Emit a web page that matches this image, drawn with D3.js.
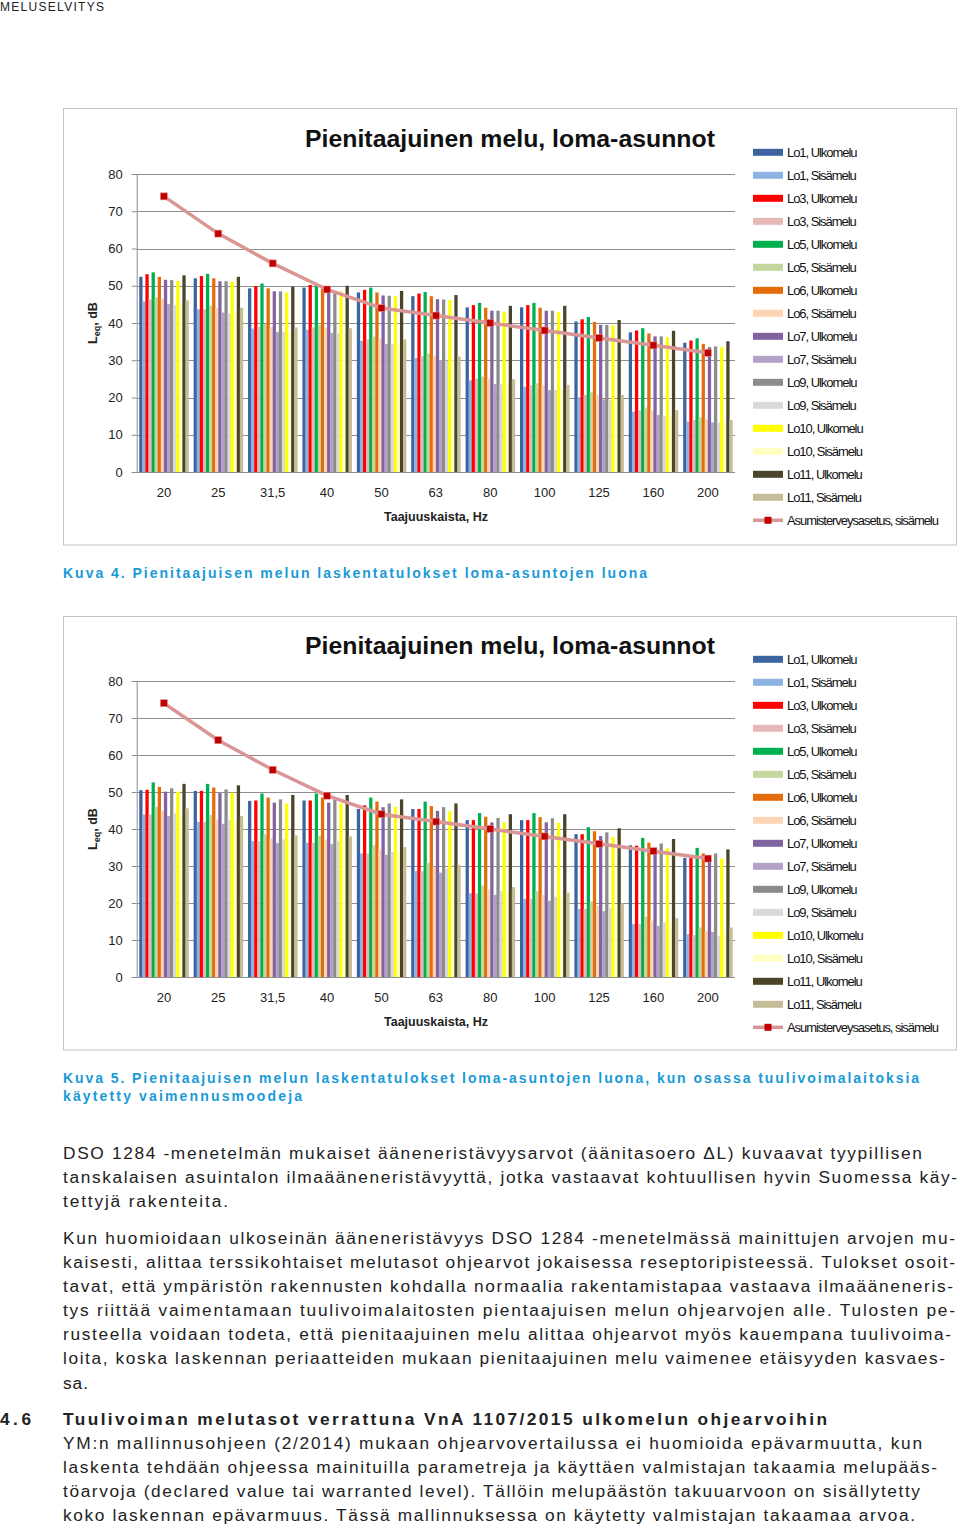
<!DOCTYPE html>
<html>
<head>
<meta charset="utf-8">
<script src="https://cdn.jsdelivr.net/npm/d3@7"></script>
<style>
body { margin: 0; background: #fff; }
svg text { font-family: "Liberation Sans", Arial, sans-serif; }
</style>
</head>
<body>
<svg id="page" width="960" height="1529"></svg>
<script>
// frequency bands (Hz)
const categories = ["20", "25", "31,5", "40", "50", "63", "80", "100", "125", "160", "200"];
// Asumisterveysasetus, sisämelu
const limit = [74, 64, 56, 49, 44, 42, 40, 38, 36, 34, 32];

// Kuva 4
const k4_lo1_u  = [52.4, 52.0, 49.3, 49.5, 48.2, 47.2, 44.2, 44.2, 40.4, 37.5, 34.7];
const k4_lo1_s  = [45.8, 43.7, 38.5, 38.2, 35.2, 30.6, 24.6, 22.9, 20.1, 16.2, 13.5];
const k4_lo3_u  = [53.1, 52.6, 49.9, 50.2, 48.9, 47.9, 44.8, 44.8, 41.0, 38.0, 35.3];
const k4_lo3_s  = [46.3, 43.7, 39.0, 38.8, 35.6, 31.1, 25.0, 23.3, 20.7, 16.6, 14.0];
const k4_lo5_u  = [53.6, 53.2, 50.6, 50.6, 49.5, 48.3, 45.4, 45.4, 41.6, 38.6, 35.9];
const k4_lo5_s  = [46.9, 44.7, 39.7, 39.5, 36.3, 31.8, 25.6, 23.8, 21.4, 17.3, 14.7];
const k4_lo6_u  = [52.4, 52.0, 49.3, 49.3, 48.2, 47.2, 44.1, 44.1, 40.3, 37.2, 34.4];
const k4_lo6_s  = [46.5, 44.0, 38.9, 38.7, 35.7, 31.2, 25.0, 23.3, 20.7, 16.6, 14.1];
const k4_lo7_u  = [51.6, 51.2, 48.5, 48.3, 47.4, 46.4, 43.3, 43.3, 39.5, 36.4, 33.5];
const k4_lo7_s  = [45.1, 42.8, 37.6, 37.3, 34.4, 30.1, 23.6, 22.0, 19.5, 15.3, 13.3];
const k4_lo9_u  = [51.5, 51.2, 48.5, 48.3, 47.3, 46.3, 43.3, 43.3, 39.5, 36.4, 33.7];
const k4_lo9_s  = [44.9, 42.6, 37.6, 37.2, 34.3, 29.9, 23.6, 22.0, 19.3, 15.1, 13.3];
const k4_lo10_u = [51.3, 51.1, 48.2, 48.5, 47.3, 46.1, 43.0, 42.9, 39.3, 36.2, 33.5];
const k4_lo10_s = [45.0, 42.7, 37.5, 37.2, 34.3, 30.0, 23.6, 22.0, 19.4, 15.2, 13.3];
const k4_lo11_u = [52.8, 52.4, 49.8, 50.0, 48.6, 47.5, 44.6, 44.6, 40.8, 37.9, 35.1];
const k4_lo11_s = [46.1, 44.1, 38.8, 38.6, 35.6, 31.0, 24.9, 23.4, 20.7, 16.6, 14.0];

// Kuva 5
const k5_lo1_u  = [50.5, 50.3, 47.6, 47.7, 45.4, 45.4, 42.4, 42.4, 38.6, 35.6, 32.2];
const k5_lo1_s  = [43.9, 41.9, 36.7, 36.3, 33.4, 28.6, 22.6, 21.1, 18.4, 14.3, 11.6];
const k5_lo3_u  = [50.6, 50.3, 47.7, 47.7, 46.4, 45.4, 42.4, 42.4, 38.6, 35.5, 32.2];
const k5_lo3_s  = [43.9, 41.9, 36.7, 36.3, 33.4, 28.6, 22.6, 21.1, 18.4, 14.3, 11.3];
const k5_lo5_u  = [52.6, 52.2, 49.6, 49.6, 48.5, 47.4, 44.3, 44.3, 40.5, 37.6, 34.9];
const k5_lo5_s  = [46.0, 43.8, 38.6, 38.2, 35.6, 30.8, 24.7, 23.2, 20.4, 16.3, 13.4];
const k5_lo6_u  = [51.4, 51.2, 48.5, 48.5, 47.4, 46.2, 43.3, 43.2, 39.4, 36.3, 33.4];
const k5_lo6_s  = [44.9, 42.6, 37.5, 37.2, 34.5, 29.8, 23.7, 22.2, 19.3, 15.2, 12.4];
const k5_lo7_u  = [50.1, 49.7, 47.1, 47.1, 45.9, 44.9, 41.8, 41.8, 38.1, 34.8, 32.0];
const k5_lo7_s  = [43.5, 41.4, 36.2, 35.9, 33.0, 28.2, 22.2, 20.6, 17.8, 13.8, 12.2];
const k5_lo9_u  = [51.0, 50.7, 48.0, 47.9, 46.9, 45.9, 43.0, 42.9, 39.1, 36.1, 33.4];
const k5_lo9_s  = [44.3, 42.4, 37.2, 36.8, 33.8, 29.3, 23.2, 21.7, 18.8, 14.8, 11.0];
const k5_lo10_u = [50.1, 49.8, 46.9, 46.9, 46.0, 44.8, 41.8, 41.7, 37.9, 34.8, 32.0];
const k5_lo10_s = [44.0, 42.0, 36.8, 36.5, 33.6, 29.0, 23.0, 21.5, 18.6, 14.6, 12.0];
const k5_lo11_u = [52.2, 51.8, 49.2, 49.2, 48.0, 46.9, 44.0, 44.0, 40.2, 37.3, 34.5];
const k5_lo11_s = [45.6, 43.5, 38.3, 38.0, 35.1, 30.3, 24.3, 22.8, 19.9, 15.9, 13.4];

const seriesNames = ["Lo1, Ulkomelu", "Lo1, Sisämelu", "Lo3, Ulkomelu", "Lo3, Sisämelu",
  "Lo5, Ulkomelu", "Lo5, Sisämelu", "Lo6, Ulkomelu", "Lo6, Sisämelu",
  "Lo7, Ulkomelu", "Lo7, Sisämelu", "Lo9, Ulkomelu", "Lo9, Sisämelu",
  "Lo10, Ulkomelu", "Lo10, Sisämelu", "Lo11, Ulkomelu", "Lo11, Sisämelu"];
const limitName = "Asumisterveysasetus, sisämelu";
const yTicks = [0, 10, 20, 30, 40, 50, 60, 70, 80];

const colors = ["#3c64a0", "#8db3e2", "#ff0000", "#e6b9b8", "#00b050", "#c3d69b", "#e46c0a", "#fcd5b5",
  "#8064a2", "#b3a2c7", "#8c8c8c", "#d9d9d9", "#ffff00", "#ffffc4", "#4a452a", "#c4bd97"];

const k4 = [k4_lo1_u, k4_lo1_s, k4_lo3_u, k4_lo3_s, k4_lo5_u, k4_lo5_s, k4_lo6_u, k4_lo6_s,
  k4_lo7_u, k4_lo7_s, k4_lo9_u, k4_lo9_s, k4_lo10_u, k4_lo10_s, k4_lo11_u, k4_lo11_s];
const k5 = [k5_lo1_u, k5_lo1_s, k5_lo3_u, k5_lo3_s, k5_lo5_u, k5_lo5_s, k5_lo6_u, k5_lo6_s,
  k5_lo7_u, k5_lo7_s, k5_lo9_u, k5_lo9_s, k5_lo10_u, k5_lo10_s, k5_lo11_u, k5_lo11_s];

const svg = d3.select("#page");

function drawChart(series, c) {
  const g = svg.append("g");
  g.append("rect").attr("x", 63.5).attr("y", c.top).attr("width", 893).attr("height", c.bottom - c.top)
    .attr("fill", "#fff").attr("stroke", "#c4c4c4");

  const y = d3.scaleLinear().domain([0, 80]).range([c.y0, c.y80]);
  const x0 = d3.scaleBand().domain(categories).range([136.7, 735]).paddingInner(0.094).paddingOuter(0.047);
  const x1 = d3.scaleBand().domain(d3.range(series.length)).range([0, x0.bandwidth()]);

  // gridlines
  g.append("g").selectAll("line").data(yTicks.slice(1)).join("line")
    .attr("x1", 136.7).attr("x2", 735).attr("y1", d => Math.round(y(d)) + 0.5).attr("y2", d => Math.round(y(d)) + 0.5)
    .attr("stroke", "#8f8f8f");

  // y axis
  const ay = g.append("g").attr("transform", "translate(136.7,0)")
    .call(d3.axisLeft(y).tickValues(yTicks).tickSize(5).tickPadding(9).tickFormat(d3.format("d")));
  ay.select(".domain").attr("stroke", "#8f8f8f");
  ay.selectAll(".tick line").attr("stroke", "#8f8f8f");
  ay.selectAll(".tick text").attr("font-size", 13).attr("fill", "#222").attr("font-family", "Liberation Sans, Arial");

  // bars
  const groups = g.append("g").selectAll("g").data(categories).join("g")
    .attr("transform", d => `translate(${x0(d)},0)`);
  groups.selectAll("rect").data((cat, i) => series.map((s, k) => ({ k, v: s[i] }))).join("rect")
    .attr("x", d => x1(d.k)).attr("width", x1.bandwidth() + 0.2)
    .attr("y", d => y(d.v)).attr("height", d => c.y0 - y(d.v))
    .attr("fill", d => colors[d.k]);

  // x axis
  g.append("line").attr("x1", 136.7).attr("x2", 735).attr("y1", c.y0 + 0.5).attr("y2", c.y0 + 0.5).attr("stroke", "#8f8f8f");
  g.append("g").selectAll("text").data(categories).join("text")
    .attr("x", d => x0(d) + x0.bandwidth() / 2).attr("y", c.y0 + 25)
    .attr("text-anchor", "middle").attr("font-size", 13).attr("fill", "#222").text(d => d);
  g.append("text").attr("x", 436).attr("y", c.y0 + 49).attr("text-anchor", "middle")
    .attr("font-size", 12.5).attr("font-weight", "bold").attr("fill", "#222").text("Taajuuskaista, Hz");

  // y title
  const yt = g.append("text").attr("transform", `translate(97,${c.yTitle}) rotate(-90)`)
    .attr("text-anchor", "middle").attr("font-size", 12.5).attr("font-weight", "bold").attr("fill", "#222");
  yt.append("tspan").text("L");
  yt.append("tspan").attr("font-size", 9).attr("dy", 3).text("eq");
  yt.append("tspan").attr("dy", -3).text(", dB");

  // limit line
  const cx = d => x0(d) + x0.bandwidth() / 2;
  g.append("path").datum(limit)
    .attr("d", d3.line().x((v, i) => cx(categories[i])).y(v => y(v)))
    .attr("fill", "none").attr("stroke", "#d99694").attr("stroke-width", 3.5);
  g.append("g").selectAll("rect").data(limit).join("rect")
    .attr("x", (v, i) => cx(categories[i]) - 3.5).attr("y", v => y(v) - 3.5)
    .attr("width", 7).attr("height", 7).attr("fill", "#c00000").attr("stroke", "#e09090").attr("stroke-width", 0.6);

  // title
  g.append("text").attr("x", 510).attr("y", c.titleY).attr("text-anchor", "middle")
    .attr("font-size", 24.5).attr("font-weight", "bold").attr("fill", "#111")
    .attr("textLength", 410).attr("lengthAdjust", "spacingAndGlyphs")
    .text("Pienitaajuinen melu, loma-asunnot");

  // legend
  const lg = g.append("g");
  const rows = seriesNames.map((n, k) => ({ n, k }));
  lg.selectAll("rect").data(rows).join("rect")
    .attr("x", 753).attr("y", d => c.legendY + d.k * 23 - 3.5).attr("width", 30).attr("height", 7)
    .attr("fill", d => colors[d.k]);
  lg.selectAll("text").data(rows.concat([{ n: limitName, k: 16 }])).join("text")
    .attr("x", 787).attr("y", d => c.legendY + d.k * 23 + 4.5)
    .attr("font-size", 13).attr("letter-spacing", -1.05).attr("fill", "#111").text(d => d.n);
  const ly = c.legendY + 16 * 23;
  lg.append("line").attr("x1", 753).attr("x2", 783).attr("y1", ly).attr("y2", ly)
    .attr("stroke", "#d99694").attr("stroke-width", 3.5);
  lg.append("rect").attr("x", 764.5).attr("y", ly - 3.5).attr("width", 7).attr("height", 7).attr("fill", "#c00000");
}

drawChart(k4, { top: 108.5, bottom: 545, y80: 174, y0: 472, titleY: 147, legendY: 152.3, yTitle: 323 });
drawChart(k5, { top: 616.5, bottom: 1050, y80: 681, y0: 977, titleY: 654, legendY: 659.3, yTitle: 829 });

// page text
function line(x, y, str, o) {
  const t = svg.append("text").attr("x", x).attr("y", y)
    .attr("font-size", o.size).attr("fill", o.fill || "#222")
    .attr("font-weight", o.bold ? "bold" : "normal").text(str);
  if (o.w) t.attr("textLength", o.w).attr("lengthAdjust", "spacing");
  return t;
}

line(0, 11, "MELUSELVITYS", { size: 12, w: 104, fill: "#222" });

const cap = { size: 14, bold: true, fill: "#1a9ad6" };
line(63, 578, "Kuva 4. Pienitaajuisen melun laskentatulokset loma-asuntojen luona", Object.assign({ w: 584 }, cap));
line(63, 1083, "Kuva 5. Pienitaajuisen melun laskentatulokset loma-asuntojen luona, kun osassa tuulivoimalaitoksia", Object.assign({ w: 856 }, cap));
line(63, 1101, "käytetty vaimennusmoodeja", Object.assign({ w: 239 }, cap));

const body = { size: 17.3 };
const bodyLines = [
  [1159, "DSO 1284 -menetelmän mukaiset ääneneristävyysarvot (äänitasoero ΔL) kuvaavat tyypillisen", 859],
  [1183, "tanskalaisen asuintalon ilmaääneneristävyyttä, jotka vastaavat kohtuullisen hyvin Suomessa käy-", 894],
  [1207, "tettyjä rakenteita.", 165],
  [1244, "Kun huomioidaan ulkoseinän ääneneristävyys DSO 1284 -menetelmässä mainittujen arvojen mu-", 892],
  [1268, "kaisesti, alittaa terssikohtaiset melutasot ohjearvot jokaisessa reseptoripisteessä. Tulokset osoit-", 892],
  [1292, "tavat, että ympäristön rakennusten kohdalla normaalia rakentamistapaa vastaava ilmaääneneris-", 890],
  [1316, "tys riittää vaimentamaan tuulivoimalaitosten pientaajuisen melun ohjearvojen alle. Tulosten pe-", 892],
  [1340, "rusteella voidaan todeta, että pienitaajuinen melu alittaa ohjearvot myös kauempana tuulivoima-", 888],
  [1364, "loita, koska laskennan periaatteiden mukaan pienitaajuinen melu vaimenee etäisyyden kasvaes-", 882],
  [1389, "sa.", 25],
  [1449, "YM:n mallinnusohjeen (2/2014) mukaan ohjearvovertailussa ei huomioida epävarmuutta, kun", 859],
  [1473, "laskenta tehdään ohjeessa mainituilla parametreja ja käyttäen valmistajan takaamia melupääs-", 874],
  [1497, "töarvoja (declared value tai warranted level). Tällöin melupäästön takuuarvoon on sisällytetty", 857],
  [1521, "koko laskennan epävarmuus. Tässä mallinnuksessa on käytetty valmistajan takaamaa arvoa.", 852]
];
bodyLines.forEach(([y, s, w]) => line(63, y, s, Object.assign({ w }, body)));

line(0, 1425, "4.6", { size: 17.3, bold: true, w: 31 });
line(63, 1425, "Tuulivoiman melutasot verrattuna VnA 1107/2015 ulkomelun ohjearvoihin", { size: 17.3, bold: true, w: 764 });
</script>
</body>
</html>
